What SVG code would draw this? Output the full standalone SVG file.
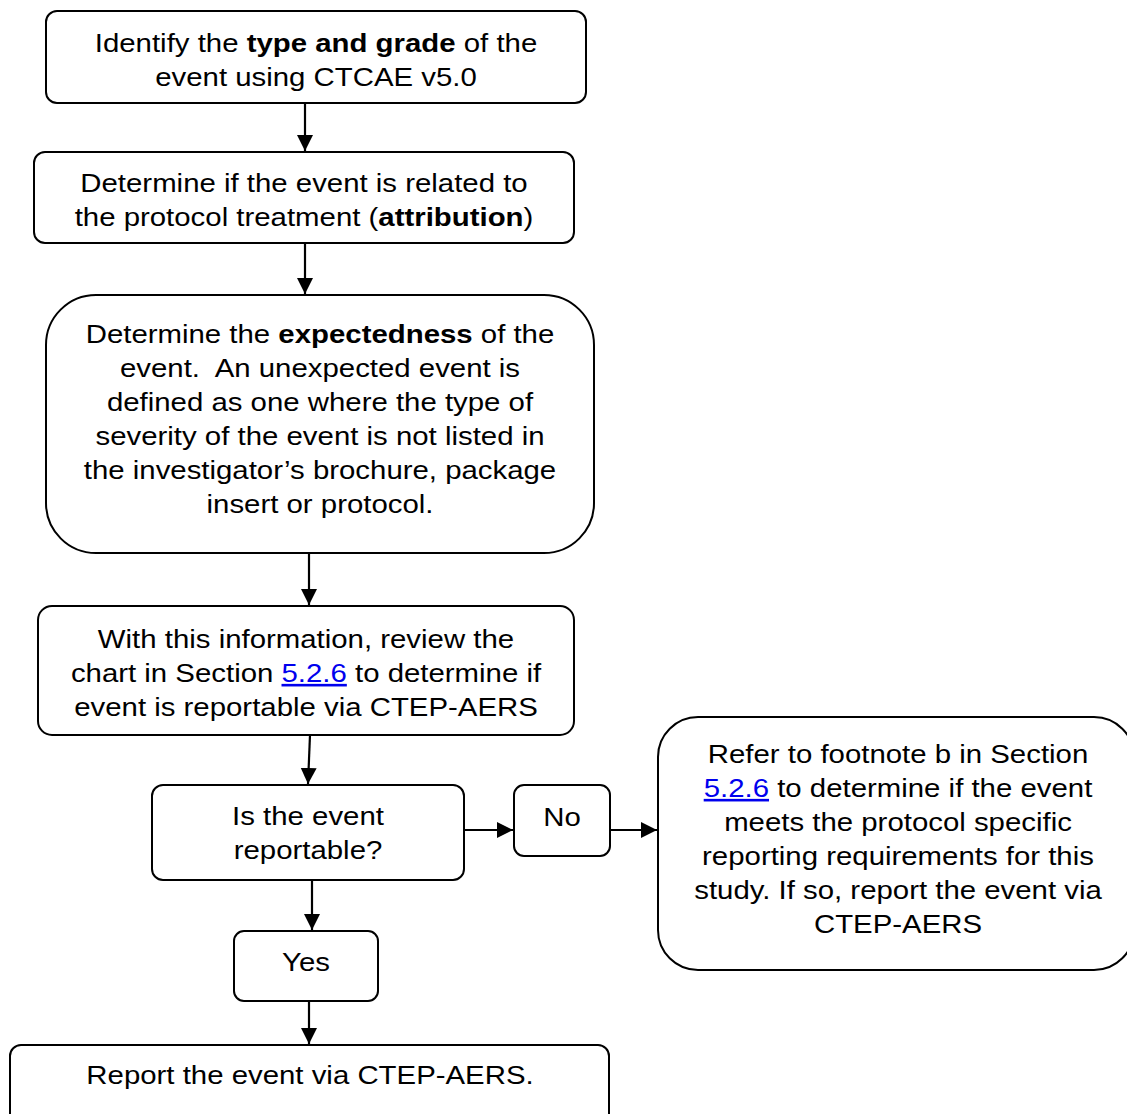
<svg xmlns="http://www.w3.org/2000/svg" width="1127" height="1114" viewBox="0 0 1127 1114">
<style>
.box{fill:#fff;stroke:#000;stroke-width:2}
.t{font-family:"Liberation Sans",Arial,sans-serif;font-size:26px;fill:#000;text-anchor:middle}
.b{font-weight:bold}
.lnk{fill:#0000ee;text-decoration:underline}
.c{stroke:#000;stroke-width:2.2;fill:none;marker-end:url(#ah)}
</style>
<defs>
<marker id="ah" markerUnits="userSpaceOnUse" markerWidth="18" markerHeight="18" refX="16" refY="9" orient="auto">
<path d="M0,1 L16,9 L0,17 Z" fill="#000"/>
</marker>
</defs>
<rect width="1127" height="1114" fill="#fff"/>
<g id="connectors">
<line class="c" x1="305" y1="103" x2="305" y2="151"/>
<line class="c" x1="305" y1="243" x2="305" y2="294"/>
<line class="c" x1="309" y1="553" x2="309" y2="605"/>
<line class="c" x1="310" y1="735" x2="308" y2="784"/>
<line class="c" x1="464" y1="830" x2="513" y2="830"/>
<line class="c" x1="610" y1="830" x2="657" y2="830"/>
<line class="c" x1="312" y1="880" x2="312" y2="930"/>
<line class="c" x1="309" y1="1001" x2="309" y2="1044"/>
</g>
<g id="n1">
<rect class="box" x="46" y="11" width="540" height="92" rx="11"/>
<g transform="translate(316 0) scale(1.13 1)">
<text class="t" x="0" y="52">Identify the <tspan class="b">type and grade</tspan> of the</text>
<text class="t" x="0" y="86">event using CTCAE v5.0</text>
</g>
</g>
<g id="n2">
<rect class="box" x="34" y="152" width="540" height="91" rx="11"/>
<g transform="translate(304 0) scale(1.13 1)">
<text class="t" x="0" y="192">Determine if the event is related to</text>
<text class="t" x="0" y="226">the protocol treatment (<tspan class="b">attribution</tspan>)</text>
</g>
</g>
<g id="n3">
<rect class="box" x="46" y="295" width="548" height="258" rx="50"/>
<g transform="translate(320 0) scale(1.13 1)">
<text class="t" x="0" y="343">Determine the <tspan class="b">expectedness</tspan> of the</text>
<text class="t" x="0" y="377" xml:space="preserve">event.  An unexpected event is</text>
<text class="t" x="0" y="411">defined as one where the type of</text>
<text class="t" x="0" y="445">severity of the event is not listed in</text>
<text class="t" x="0" y="479">the investigator’s brochure, package</text>
<text class="t" x="0" y="513">insert or protocol.</text>
</g>
</g>
<g id="n4">
<rect class="box" x="38" y="606" width="536" height="129" rx="14"/>
<g transform="translate(306 0) scale(1.13 1)">
<text class="t" x="0" y="648">With this information, review the</text>
<text class="t" x="0" y="682">chart in Section <tspan class="lnk">5.2.6</tspan> to determine if</text>
<text class="t" x="0" y="716">event is reportable via CTEP-AERS</text>
</g>
</g>
<g id="n5">
<rect class="box" x="152" y="785" width="312" height="95" rx="11"/>
<g transform="translate(308 0) scale(1.13 1)">
<text class="t" x="0" y="825">Is the event</text>
<text class="t" x="0" y="859">reportable?</text>
</g>
</g>
<g id="n6">
<rect class="box" x="514" y="785" width="96" height="71" rx="10"/>
<g transform="translate(562 0) scale(1.13 1)">
<text class="t" x="0" y="826">No</text>
</g>
</g>
<g id="n7">
<rect class="box" x="658" y="717" width="476" height="253" rx="40"/>
<g transform="translate(898 0) scale(1.13 1)">
<text class="t" x="0" y="763">Refer to footnote b in Section</text>
<text class="t" x="0" y="797"><tspan class="lnk">5.2.6</tspan> to determine if the event</text>
<text class="t" x="0" y="831">meets the protocol specific</text>
<text class="t" x="0" y="865">reporting requirements for this</text>
<text class="t" x="0" y="899">study. If so, report the event via</text>
<text class="t" x="0" y="933">CTEP-AERS</text>
</g>
</g>
<g id="n8">
<rect class="box" x="234" y="931" width="144" height="70" rx="10"/>
<g transform="translate(306 0) scale(1.13 1)">
<text class="t" x="0" y="971">Yes</text>
</g>
</g>
<g id="n9">
<rect class="box" x="10" y="1045" width="599" height="80" rx="11"/>
<g transform="translate(310 0) scale(1.13 1)">
<text class="t" x="0" y="1084">Report the event via CTEP-AERS.</text>
</g>
</g>
</svg>
